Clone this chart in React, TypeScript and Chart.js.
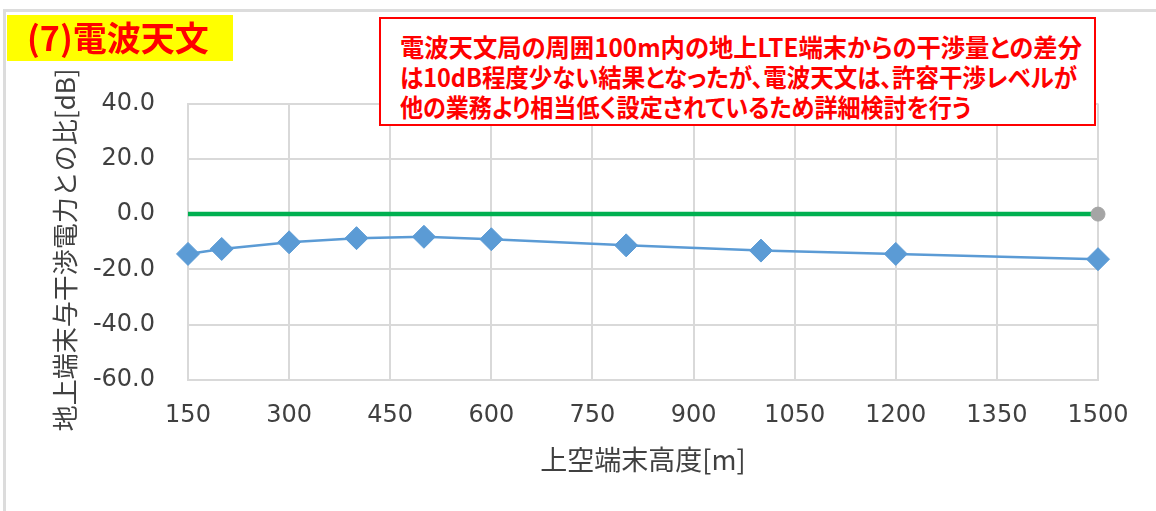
import React, { useEffect, useLayoutEffect, useRef } from "react";
import { Chart, registerables } from "chart.js";

Chart.register(...registerables);

// ---- data ----
const heights = [150, 200, 300, 400, 500, 600, 800, 1000, 1200, 1500];
const ratioDb = [-14.4, -12.6, -10.2, -8.7, -8.2, -9.1, -11.3, -13.2, -14.4, -16.3];
const thresholdX = [150, 1500];
const thresholdY = [0, 0];
const markerX = [1500];
const markerY = [0];

const xMin = 150;
const xMax = 1500;
const xStep = 150;
const yMin = -60;
const yMax = 40;
const yStep = 20;

const titleText = "(7)電波天文";
const noteLines = [
  "電波天文局の周囲100m内の地上LTE端末からの干渉量との差分",
  "は10dB程度少ない結果となったが、電波天文は、許容干渉レベルが",
  "他の業務より相当低く設定されているため詳細検討を行う",
];
const xAxisTitle = "上空端末高度[m]";
const yAxisTitle = "地上端末与干渉電力との比[dB]";

// layout (not data): target rendered widths of the note lines
const noteLineWidths = [682, 677, 571];

const CJK = '"Noto Sans CJK JP", "Noto Sans", sans-serif';
const TICK_FONT = '"DejaVu Sans", Verdana, sans-serif';
const TEXT_GRAY = "#404040";
const GRID = "#D9D9D9";

const yTitlePlugin = {
  id: "yTitleCustom",
  afterDraw(chart: any) {
    const { ctx, chartArea } = chart;
    ctx.save();
    ctx.translate(65, (chartArea.top + chartArea.bottom) / 2 + 8);
    ctx.rotate(-Math.PI / 2);
    ctx.font = `26px ${CJK}`;
    ctx.fillStyle = TEXT_GRAY;
    ctx.textAlign = "center";
    ctx.textBaseline = "middle";
    ctx.fillText(yAxisTitle, 0, 0);
    ctx.restore();
  },
};

function ChartCanvas() {
  const ref = useRef<HTMLCanvasElement | null>(null);
  useEffect(() => {
    if (!ref.current) return;
    const chart = new Chart(ref.current, {
      type: "line",
      data: {
        datasets: [
          {
            label: "threshold",
            data: thresholdX.map((x, i) => ({ x, y: thresholdY[i] })),
            borderColor: "#00B050",
            borderWidth: 4.5,
            pointRadius: 0,
            clip: false as any,
            order: 2,
          },
          {
            label: "marker",
            data: markerX.map((x, i) => ({ x, y: markerY[i] })),
            showLine: false,
            pointRadius: 7,
            pointBackgroundColor: "#A5A5A5",
            pointBorderColor: "#A5A5A5",
            clip: false as any,
            order: 1,
          },
          {
            label: "ratio",
            data: heights.map((x, i) => ({ x, y: ratioDb[i] })),
            borderColor: "#5B9BD5",
            borderWidth: 2.5,
            pointStyle: "rectRot",
            pointRadius: 11.5,
            pointBackgroundColor: "#5B9BD5",
            pointBorderColor: "#5B9BD5",
            pointBorderWidth: 1,
            clip: false as any,
            order: 0,
          },
        ],
      },
      options: {
        responsive: false,
        animation: false,
        devicePixelRatio: 1,
        layout: { padding: { left: 0, top: 103.5, right: 58, bottom: 0 } },
        plugins: {
          legend: { display: false },
          tooltip: { enabled: false },
        },
        scales: {
          x: {
            type: "linear",
            min: xMin,
            max: xMax,
            afterFit: (s: any) => {
              s.height = 131;
            },
            ticks: {
              stepSize: xStep,
              padding: 21,
              color: TEXT_GRAY,
              font: { family: TICK_FONT, size: 24 },
              maxRotation: 0,
              callback: (v: any) => String(v),
            },
            grid: { color: GRID, lineWidth: 2, drawTicks: false },
            border: { color: GRID, width: 2 },
            title: {
              display: true,
              text: xAxisTitle,
              color: TEXT_GRAY,
              font: { family: CJK, size: 27 },
              padding: { top: 0, bottom: 35 },
            },
          },
          y: {
            type: "linear",
            min: yMin,
            max: yMax,
            afterFit: (s: any) => {
              s.width = 188;
            },
            ticks: {
              stepSize: yStep,
              padding: 33,
              color: TEXT_GRAY,
              font: { family: TICK_FONT, size: 24 },
              callback: (v: any) => Number(v).toFixed(1),
            },
            grid: { color: GRID, lineWidth: 2, drawTicks: false },
            border: { color: GRID, width: 2 },
          },
        },
      },
      plugins: [yTitlePlugin],
    });
    return () => chart.destroy();
  }, []);
  return (
    <canvas
      ref={ref}
      width={1156}
      height={511}
      style={{ position: "absolute", left: 0, top: 0, width: 1156, height: 511 }}
    />
  );
}

function NoteBox() {
  const spans = useRef<(HTMLSpanElement | null)[]>([]);
  useLayoutEffect(() => {
    const fit = () => {
      spans.current.forEach((el, i) => {
        if (!el) return;
        el.style.transform = "none";
        const w = el.getBoundingClientRect().width;
        if (w > 0) el.style.transform = `scaleX(${noteLineWidths[i] / w})`;
      });
    };
    fit();
    if ((document as any).fonts && (document as any).fonts.ready) {
      (document as any).fonts.ready.then(fit);
    }
  }, []);
  return (
    <div
      style={{
        position: "absolute",
        left: 379,
        top: 17,
        width: 717,
        height: 109,
        border: "2px solid #FF0000",
        background: "#FFFFFF",
        boxSizing: "border-box",
        paddingTop: 12,
        paddingLeft: 19,
        color: "#FF0000",
        fontFamily: CJK,
        fontWeight: 700,
        fontSize: 25,
        lineHeight: "30px",
        whiteSpace: "nowrap",
        fontFeatureSettings: '"palt"',
      }}
    >
      {noteLines.map((t, i) => (
        <div key={i}>
          <span
            ref={(el) => {
              spans.current[i] = el;
            }}
            style={{ display: "inline-block", transformOrigin: "0 50%" }}
          >
            {t}
          </span>
        </div>
      ))}
    </div>
  );
}

export default function App() {
  return (
    <div
      style={{
        position: "fixed",
        left: 0,
        top: 0,
        width: 1156,
        height: 511,
        overflow: "hidden",
        background: "#FFFFFF",
      }}
    >
      <div
        style={{
          position: "absolute",
          left: 3,
          top: 9,
          width: 1200,
          height: 600,
          borderTop: "3px solid #DCDCDC",
          borderLeft: "3px solid #DCDCDC",
        }}
      />
      <ChartCanvas />
      <div
        style={{
          position: "absolute",
          left: 7,
          top: 15,
          width: 226,
          height: 46,
          background: "#FFFF00",
          color: "#FF0000",
          fontFamily: CJK,
          fontWeight: 700,
          fontSize: 34,
          lineHeight: "44px",
          paddingLeft: 20,
          boxSizing: "border-box",
          whiteSpace: "nowrap",
        }}
      >
        {titleText}
      </div>
      <NoteBox />
    </div>
  );
}
